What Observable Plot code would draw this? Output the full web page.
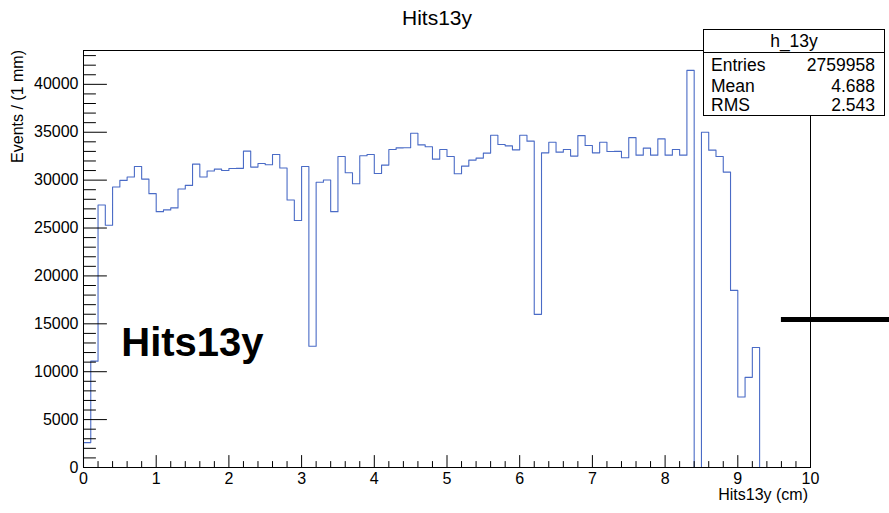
<!DOCTYPE html>
<html>
<head>
<meta charset="utf-8">
<script src="https://cdn.jsdelivr.net/npm/d3@7"></script>
<script src="https://cdn.jsdelivr.net/npm/@observablehq/plot@0.6"></script>
<style>
  html, body { margin: 0; padding: 0; background: #fff; }
  #chart { width: 889px; height: 513px; }
</style>
</head>
<body>
<div id="chart"></div>
<script>
// Histogram h_13y: hits per 1 mm bin along y (cm)
const binWidth = 0.1;
const counts = [
  2600, 11100, 27400, 25290, 29280, 29970, 30320, 31430, 30110, 28590,
  26710, 26890, 27100, 29070, 29450, 31670, 30320, 30950, 31150, 31010,
  31220, 31230, 33030, 31360, 31740, 31600, 32670, 31260, 27930, 25780,
  31420, 12660, 29780, 30010, 26710, 32470, 30770, 29630, 32540, 32680,
  30700, 31570, 33200, 33370, 33380, 34900, 33680, 33480, 32190, 33200,
  32470, 30660, 31460, 32090, 32300, 32820, 34690, 33720, 33580, 33160,
  34690, 34070, 15990, 32850, 33960, 32920, 33200, 32510, 34650, 33610,
  32850, 33960, 32990, 33000, 32330, 34440, 32610, 33340, 32610, 34310,
  32610, 33200, 32610, 41460, 0, 35000, 33130, 32470, 30840, 18490,
  7360, 9410, 12530, 0, 0, 0, 0, 0, 0, 0
];

// Axis tick values and labels
const xTickValues = d3.range(0, 11, 1);
const xMinorTicks = d3.range(0, 51, 1).map(i => i * 0.2).filter(v => Math.abs(v - Math.round(v)) > 1e-6);
const yTickValues = d3.range(0, 40001, 5000);
const yMinorTicks = d3.range(0, 44000, 1000).filter(v => v % 5000 !== 0);

// Texts
const chartTitle = "Hits13y";
const xTitle = "Hits13y (cm)";
const yTitle = "Events / (1 mm)";
const statsName = "h_13y";
const statsLabels = ["Entries", "Mean", "RMS"];
const statsValues = ["2759958", "4.688", "2.543"];

// Annotations drawn inside the pad
const bigLabel = [{text: "Hits13y", x: 0.52, y: 11690}];
const markerLine = [{y: 15450, x1: 9.6, x2: 11.2}];

// Step outline of the histogram
const outline = [{x: 0, y: 0}];
counts.forEach((c, i) => {
  const lo = i * binWidth, hi = (i + 1) * binWidth;
  outline.push({x: lo, y: c}, {x: hi, y: c});
});
outline.push({x: counts.length * binWidth, y: 0});

const yMax = d3.max(counts) * 1.05;
const font = "'Liberation Sans', Arial, Helvetica, sans-serif";

// Inward tick shape for vector marks
const tickShape = {draw(ctx, l) { ctx.moveTo(0, 0); ctx.lineTo(0, -l); }};

const plot = Plot.plot({
  width: 889,
  height: 513,
  marginLeft: 83,
  marginRight: 79,
  marginTop: 50,
  marginBottom: 46,
  x: {domain: [0, 10]},
  y: {domain: [0, yMax]},
  style: {fontFamily: font, fontSize: "16px", color: "#000", background: "#fff"},
  marks: [
    Plot.line(outline, {x: "x", y: "y", stroke: "#4a6bc6", strokeWidth: 1.1}),
    Plot.frame({stroke: "#000", strokeWidth: 1}),
    // y ticks pointing into the frame
    Plot.vector(yTickValues, {x: 0, y: d => d, length: 23, rotate: 90, anchor: "start", shape: tickShape, stroke: "#000", strokeWidth: 1}),
    Plot.vector(yMinorTicks, {x: 0, y: d => d, length: 12, rotate: 90, anchor: "start", shape: tickShape, stroke: "#000", strokeWidth: 1}),
    // x ticks pointing up
    Plot.vector(xTickValues, {x: d => d, y: 0, length: 12, rotate: 0, anchor: "start", shape: tickShape, stroke: "#000", strokeWidth: 1}),
    Plot.vector(xMinorTicks, {x: d => d, y: 0, length: 6, rotate: 0, anchor: "start", shape: tickShape, stroke: "#000", strokeWidth: 1}),
    Plot.axisY(yTickValues, {tickSize: 0, tickPadding: 5, tickFormat: d => String(d), fontSize: 16, label: null}),
    Plot.axisX(xTickValues, {tickSize: 0, tickPadding: 5, tickFormat: d => String(d), fontSize: 16, label: null}),
    Plot.text(bigLabel, {x: "x", y: "y", text: "text", textAnchor: "start", lineAnchor: "bottom", fontSize: 40, fontWeight: "bold", fill: "#000"}),
    Plot.ruleY(markerLine, {y: "y", x1: "x1", x2: "x2", stroke: "#000", strokeWidth: 5})
  ]
});

document.getElementById("chart").appendChild(plot);

const svg = d3.select(plot);

// Titles
svg.append("text")
  .attr("x", 437).attr("y", 24.5)
  .attr("text-anchor", "middle")
  .style("font-family", font).style("font-size", "21px").attr("fill", "#000")
  .text(chartTitle);

svg.append("text")
  .attr("x", 808).attr("y", 499.5)
  .attr("text-anchor", "end")
  .style("font-family", font).style("font-size", "16px").attr("fill", "#000")
  .text(xTitle);

svg.append("text")
  .attr("transform", "translate(22.5,50) rotate(-90)")
  .attr("text-anchor", "end")
  .style("font-family", font).style("font-size", "16px").attr("fill", "#000")
  .text(yTitle);

// Statistics box
const stats = svg.append("g").style("font-family", font).style("font-size", "17.5px");
stats.append("rect")
  .attr("x", 703.5).attr("y", 29.5).attr("width", 181).attr("height", 86)
  .attr("fill", "#fff").attr("stroke", "#000").attr("stroke-width", 1);
stats.append("line")
  .attr("x1", 703.5).attr("x2", 884.5).attr("y1", 52.5).attr("y2", 52.5)
  .attr("stroke", "#000").attr("stroke-width", 1);
stats.append("text")
  .attr("x", 794).attr("y", 47).attr("text-anchor", "middle").attr("fill", "#000")
  .text(statsName);
const rowBaselines = [70.5, 91.5, 111];
statsLabels.forEach((lab, i) => {
  stats.append("text").attr("x", 711).attr("y", rowBaselines[i]).attr("text-anchor", "start").attr("fill", "#000").text(lab);
  stats.append("text").attr("x", 875).attr("y", rowBaselines[i]).attr("text-anchor", "end").attr("fill", "#000").text(statsValues[i]);
});
</script>
</body>
</html>
